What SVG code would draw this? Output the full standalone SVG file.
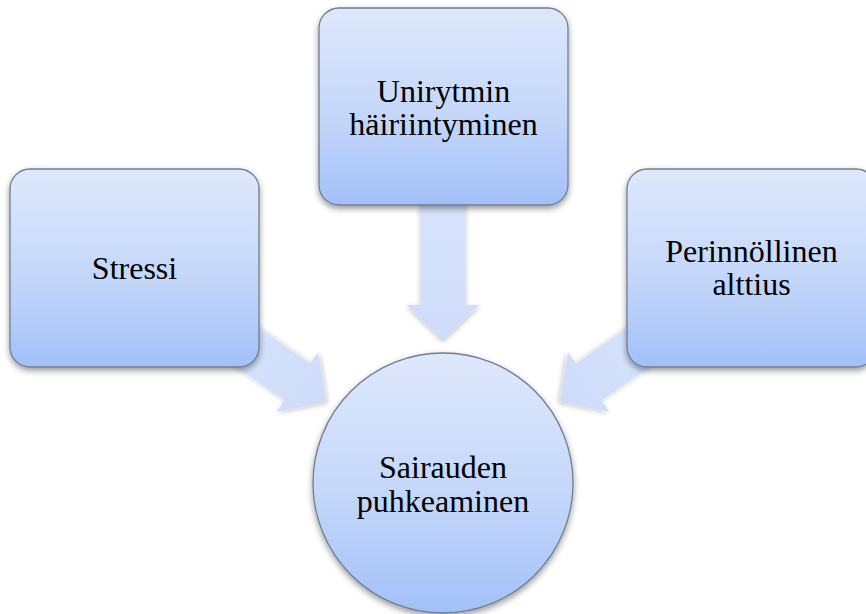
<svg xmlns="http://www.w3.org/2000/svg" width="866" height="614" viewBox="0 0 866 614">
<defs>
<linearGradient id="nodeGrad" x1="0" y1="0" x2="0" y2="1">
<stop offset="0" stop-color="#dee8fc"/>
<stop offset="0.55" stop-color="#c4d7fa"/>
<stop offset="1" stop-color="#a2c0f8"/>
</linearGradient>
<linearGradient id="arrowGrad" x1="0" y1="0" x2="0" y2="1">
<stop offset="0" stop-color="#dde7fc"/>
<stop offset="1" stop-color="#cddcfa"/>
</linearGradient>
<filter id="shadow" x="-20%" y="-20%" width="140%" height="140%">
<feDropShadow dx="0" dy="3" stdDeviation="3" flood-color="#000" flood-opacity="0.4"/>
</filter>
<filter id="ashadow" x="-30%" y="-30%" width="160%" height="160%">
<feDropShadow dx="0" dy="2" stdDeviation="2.5" flood-color="#000" flood-opacity="0.25"/>
</filter>
<path id="arrowShape" d="M0,0 L-36.5,-35 L-22.5,-35 L-22.5,-200 L22.5,-200 L22.5,-35 L36.5,-35 Z"/>
</defs>
<style>
.node{fill:url(#nodeGrad);stroke:#6f7d92;stroke-width:1.3;filter:url(#shadow)}
.arrow{fill:url(#arrowGrad);filter:url(#ashadow)}
.label{font-family:"Liberation Serif","Times New Roman",serif;font-size:32px;fill:#000;text-anchor:middle}
</style>
<g id="connectors">
<use href="#arrowShape" class="arrow" transform="translate(443,340)"/>
<use href="#arrowShape" class="arrow" transform="translate(326,402) rotate(-55.2)"/>
<use href="#arrowShape" class="arrow" transform="translate(560,402) rotate(55.2)"/>
</g>
<g id="node-unirytmi">
<rect class="node" x="319" y="8" width="249" height="197" rx="20"/>
<text class="label" x="443.5" y="102">Unirytmin</text>
<text class="label" x="443.5" y="135">häiriintyminen</text>
</g>
<g id="node-stressi">
<rect class="node" x="10" y="169" width="249" height="198" rx="20"/>
<text class="label" x="134.5" y="279">Stressi</text>
</g>
<g id="node-perinnollinen">
<rect class="node" x="627" y="169" width="249" height="198" rx="20"/>
<text class="label" x="751.5" y="262">Perinnöllinen</text>
<text class="label" x="751.5" y="295">alttius</text>
</g>
<g id="node-sairaus">
<circle class="node" cx="443" cy="483" r="130"/>
<text class="label" x="443" y="478">Sairauden</text>
<text class="label" x="443" y="512">puhkeaminen</text>
</g>
</svg>
